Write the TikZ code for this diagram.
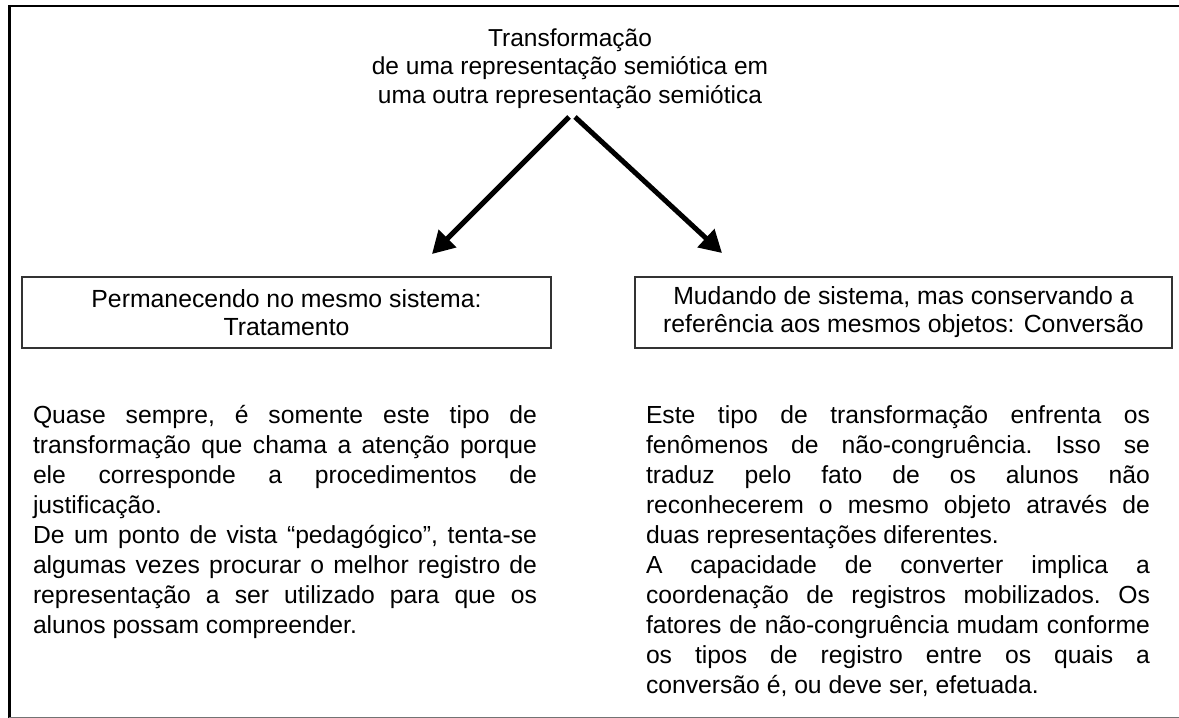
\documentclass[tikz,border=0pt]{standalone}
\usepackage{fontspec}
\setmainfont{Liberation Sans}
\usetikzlibrary{arrows.meta}
\setlength{\parindent}{0pt}
\newcommand{\tstrut}{\rule{0pt}{24pt}}
\tolerance=10000
\hbadness=10000
\hyphenpenalty=10000
\exhyphenpenalty=10000
\begin{document}
\begin{tikzpicture}[x=1pt,y=-1pt,
  every node/.style={inner sep=0pt, outer sep=0pt, text=black},
  titletext/.style={align=center, anchor=north, font=\fontsize{24.5}{28.5}\selectfont},
  boxlabel/.style={draw=black!80, line width=1.2pt, minimum width=529pt, minimum height=71pt,
    align=center, font=\fontsize{24.8}{28}\selectfont},
  para/.style={text width=504pt, align=justify, anchor=north west,
    font={\fontsize{24.7}{30}\selectfont\frenchspacing}},
  bigarrow/.style={line width=5pt, -{Triangle[length=22pt,width=24pt]}},
]
\useasboundingbox (0,0) rectangle (1179,718);
% outer frame
\draw[line width=2.6pt] (9.3,718) -- (9.3,6) -- (1179,6);
\draw[line width=1pt, black!55] (9.3,717) -- (1179,717);

% title
\node[titletext] (title) at (570,22) {\tstrut Transformação\\ de uma representação semiótica em\\ uma outra representação semiótica};

% arrows
\coordinate (ls) at (569,117);
\coordinate (lt) at (432,254);
\coordinate (rs) at (575,117);
\coordinate (rt) at (722,253);
\draw[bigarrow] (ls) -- (lt);
\draw[bigarrow] (rs) -- (rt);

% boxes
\node[boxlabel] (treat) at (286.5,312.5) {Permanecendo no mesmo sistema:\\ Tratamento};
\node[boxlabel, minimum width=537pt] (conv) at (903.5,312.5) {Mudando de sistema, mas conservando a\\ referência aos mesmos objetos: Conversão};

% paragraphs
\node[para] (leftpar) at (33,399) {\tstrut Quase sempre, é somente este tipo de\linebreak
transformação que chama a atenção porque\linebreak
ele corresponde a procedimentos de\linebreak
justificação.\par
De um ponto de vista “pedagógico”, tenta-se\linebreak
algumas vezes procurar o melhor registro de\linebreak
representação a ser utilizado para que os\linebreak
alunos possam compreender.};

\node[para] (rightpar) at (646,399) {\tstrut Este tipo de transformação enfrenta os\linebreak
fenômenos de não-congruência. Isso se\linebreak
traduz pelo fato de os alunos não\linebreak
reconhecerem o mesmo objeto através de\linebreak
duas representações diferentes.\par
A capacidade de converter implica a\linebreak
coordenação de registros mobilizados. Os\linebreak
fatores de não-congruência mudam conforme\linebreak
os tipos de registro entre os quais a\linebreak
conversão é, ou deve ser, efetuada.};
\end{tikzpicture}
\end{document}
